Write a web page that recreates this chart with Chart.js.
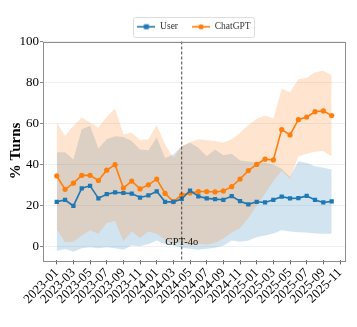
<!DOCTYPE html>
<html><head><meta charset="utf-8">
<style>html,body{margin:0;padding:0;background:#fff;overflow:hidden}#wrap{width:357px;height:327px;position:relative}</style>
<script src="https://cdn.jsdelivr.net/npm/chart.js@4.4.1/dist/chart.umd.min.js"></script>
</head><body><div id="wrap"><canvas id="c" width="357" height="327"></canvas></div>
<script>
const months = ['2023-01','2023-02','2023-03','2023-04','2023-05','2023-06','2023-07','2023-08','2023-09','2023-10','2023-11','2023-12',
'2024-01','2024-02','2024-03','2024-04','2024-05','2024-06','2024-07','2024-08','2024-09','2024-10','2024-11','2024-12',
'2025-01','2025-02','2025-03','2025-04','2025-05','2025-06','2025-07','2025-08','2025-09','2025-10','2025-11'];
const userMean = [21.9,22.8,19.9,28.5,29.7,23.6,25.6,26.5,26.2,25.9,24.0,25.0,27.0,21.9,21.9,23.3,27.4,24.6,23.6,23.2,22.9,24.7,22.2,20.7,21.9,21.6,22.9,24.4,23.6,23.7,24.8,22.8,21.6,22.1];
const userLow  = [-1.9,-1.1,-2.4,-0.7,-0.2,-0.7,-0.2,-0.7,-1.4,0.6,0.2,1.4,3.0,1.4,0.6,-0.5,-1.0,-1.5,-1.0,-0.5,0.5,3.0,2.5,3.0,4.7,5.5,6.5,8.0,7.5,7.1,7.0,6.5,6.3,6.3];
const userHigh = [46.1,46.1,42.5,57.3,58.9,47.9,52.4,53.8,53.5,51.5,47.4,47.0,53.2,43.3,45.0,49.0,50.7,48.2,44.1,47.4,44.6,45.3,42.0,41.5,41.0,41.0,40.0,38.0,34.0,41.7,40.8,39.2,38.5,37.6];
const chatMean = [34.5,28.0,31.0,34.8,34.8,32.3,37.3,40.0,28.6,32.0,28.2,30.2,33.0,26.0,22.0,25.3,26.2,26.9,26.9,26.7,27.2,29.3,33.0,37.1,40.1,42.7,42.3,57.1,54.5,61.9,63.2,65.8,66.2,63.9];
const chatLow  = [8.5,2.2,2.5,5.5,8.0,6.3,11.6,12.6,2.7,7.5,4.3,7.5,6.3,3.4,1.5,2.2,0.5,1.5,1.0,2.0,4.0,7.0,9.0,14.0,20.0,26.0,32.0,37.0,33.0,44.0,45.3,46.3,46.6,44.0];
const chatHigh = [60.6,54.0,58.9,63.0,60.6,58.1,63.4,67.2,54.8,55.6,52.0,52.4,59.3,49.9,43.3,49.0,51.0,52.4,51.9,51.5,50.7,52.4,55.6,59.3,62.2,63.9,62.5,77.0,75.3,81.6,82.4,85.0,85.7,83.6];
const yTicks = [0,20,40,60,80,100];
const eventMonth = '2024-04';
const eventLabel = 'GPT-4o';
const seriesNames = ['User','ChatGPT'];
const yTitle = '% Turns';

const BLUE = '#1f77b4', ORANGE = '#ff7f0e';
const SERIF = '"Liberation Serif","DejaVu Serif",serif';
const pts = arr => arr.map((v,i)=>({x:i,y:v}));

function legendIcon(color, square){
  const c = document.createElement('canvas'); c.width = 18; c.height = 8;
  const g = c.getContext('2d');
  g.strokeStyle = color; g.lineWidth = 1.6;
  g.beginPath(); g.moveTo(0,4); g.lineTo(18,4); g.stroke();
  g.fillStyle = color;
  if (square) g.fillRect(6.5,1.5,5,5); else { g.beginPath(); g.arc(9,4,2.6,0,Math.PI*2); g.fill(); }
  return c;
}
const icons = [legendIcon(BLUE,true), legendIcon(ORANGE,false)];

const framePlugin = {
  id:'frame',
  afterDatasetsDraw(chart){
    const {ctx, chartArea:a, scales:{x}} = chart;
    const xp = x.getPixelForValue(months.indexOf(eventMonth));
    ctx.save();
    ctx.strokeStyle = '#333'; ctx.lineWidth = 0.9; ctx.setLineDash([3,2]);
    ctx.beginPath(); ctx.moveTo(xp,a.top); ctx.lineTo(xp,a.bottom); ctx.stroke();
    ctx.setLineDash([]);
    ctx.fillStyle = '#111'; ctx.font = '10.5px '+SERIF; ctx.textAlign='center'; ctx.textBaseline='middle';
    ctx.fillText(eventLabel, xp, a.bottom-18);
    ctx.restore();
  },
  afterDraw(chart){
    const {ctx, chartArea:a} = chart;
    ctx.save();
    ctx.strokeStyle = '#8c8c8c'; ctx.lineWidth = 1;
    ctx.strokeRect(Math.round(a.left)+0.5, Math.round(a.top)+0.5, Math.round(a.right-a.left), Math.round(a.bottom-a.top));
    const hb = chart.legend.legendHitBoxes;
    if (hb && hb.length){
      const l = Math.min(...hb.map(h=>h.left))-4, r = Math.max(...hb.map(h=>h.left+h.width))+4;
      const t = Math.min(...hb.map(h=>h.top))-5, b = Math.max(...hb.map(h=>h.top+h.height))+5;
      ctx.strokeStyle = '#dddddd'; ctx.lineWidth = 1;
      ctx.beginPath(); ctx.roundRect(Math.round(l)+0.5, Math.round(t)+0.5, Math.round(r-l), Math.round(b-t), 2); ctx.stroke();
    }
    ctx.restore();
  }
};

const bandStyle = (color)=>({borderColor:'transparent', borderWidth:0, pointRadius:0, pointHoverRadius:0, backgroundColor:color, tension:0});

new Chart(document.getElementById('c'), {
  type:'line',
  data:{ datasets:[
    {label:seriesNames[0], data:pts(userMean), borderColor:BLUE, backgroundColor:BLUE, borderWidth:1.6, pointStyle:'rect', pointRadius:3, pointBorderWidth:0, fill:false, tension:0},
    {label:seriesNames[1], data:pts(chatMean), borderColor:ORANGE, backgroundColor:ORANGE, borderWidth:1.6, pointStyle:'circle', pointRadius:2.6, pointBorderWidth:0, fill:false, tension:0},
    {label:'chatHigh', data:pts(chatHigh), ...bandStyle('rgba(255,127,14,0.2)'), fill:'+1'},
    {label:'chatLow', data:pts(chatLow), ...bandStyle('transparent'), fill:false},
    {label:'userHigh', data:pts(userHigh), ...bandStyle('rgba(31,119,180,0.2)'), fill:'+1'},
    {label:'userLow', data:pts(userLow), ...bandStyle('transparent'), fill:false}
  ]},
  options:{
    responsive:false, animation:false, devicePixelRatio:1,
    layout:{padding:{top:8,right:12,bottom:19,left:0}},
    plugins:{
      tooltip:{enabled:false},
      legend:{
        position:'top', fullSize:false,
        labels:{
          font:{family:SERIF,size:9.5}, color:'#333', usePointStyle:true, pointStyleWidth:18, padding:14,
          generateLabels:()=>seriesNames.map((n,i)=>({text:n, pointStyle:icons[i], fillStyle:'transparent', strokeStyle:'transparent', lineWidth:0, datasetIndex:i, fontColor:'#333'}))
        }
      }
    },
    scales:{
      x:{type:'linear', min:-1.65, max:34.6,
        afterBuildTicks:s=>{ s.ticks = months.map((m,i)=>i).filter(i=>i%2===0).map(i=>({value:i})); },
        ticks:{autoSkip:false, minRotation:45, maxRotation:45, color:'#000', font:{family:SERIF,size:13}, padding:1, callback:v=>months[v]},
        grid:{drawOnChartArea:false, drawTicks:true, tickLength:4, tickColor:'#666'},
        border:{display:false}
      },
      y:{min:-6.6, max:100,
        afterBuildTicks:s=>{ s.ticks = yTicks.map(v=>({value:v})); },
        afterFit:s=>{ s.width = 43; },
        ticks:{color:'#000', font:{family:SERIF,size:13}, padding:1},
        grid:{color:'#ececec', lineWidth:0.8, drawTicks:true, tickLength:3, tickColor:'#666'},
        border:{display:false},
        title:{display:true, text:yTitle, color:'#000', font:{family:SERIF,size:15,weight:'bold'}, padding:{top:7,bottom:0}}
      }
    }
  },
  plugins:[framePlugin]
});
</script></body></html>
